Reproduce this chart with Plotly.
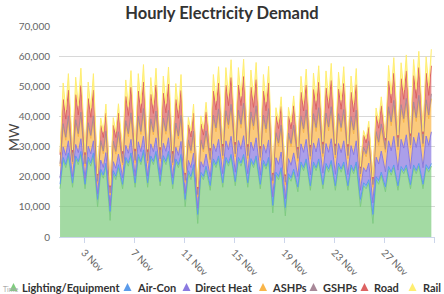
import pandas as pd
import plotly.graph_objects as go

# ---------------- data (MW), 4 readings per day: 02h, 08h, 13h, 18h ----------------
DAYS = list(range(30))
HOURS = [2, 8, 13, 18]

LIGHTING = [
    16000, 25500, 23000, 27000, 16500, 26000, 24000, 27500, 16000, 25500, 23500, 27000,
    10000, 21500, 19500, 23500, 5500, 21000, 19000, 23000, 16000, 25500, 23500, 27000,
    16500, 26500, 24000, 28000, 16500, 26000, 24000, 27500, 17000, 26000, 24000, 27500,
    16000, 25000, 23000, 26500, 10000, 21000, 19000, 23000, 4500, 20500, 19000, 22500,
    15500, 25000, 23000, 26000, 16500, 25500, 23500, 26500, 17000, 25500, 23500, 26500,
    16500, 25000, 23000, 26000, 16000, 24500, 22500, 25500, 8000, 20500, 19000, 22000,
    7000, 20000, 18500, 21500, 15000, 24000, 22000, 25000, 15500, 24000, 22000, 25000,
    16000, 23500, 21500, 24500, 15500, 23500, 21500, 24000, 15500, 23000, 21000, 24000,
    10000, 17000, 16000, 18000, 4500, 19000, 17500, 20500, 15000, 22500, 20500, 23000,
    15500, 22500, 21000, 23000, 16000, 23000, 21000, 23500, 16000, 23000, 21500, 23500]

AIRCON = [
    1500, 900, 1100, 900, 1400, 900, 1000, 900, 1500, 1000, 1100, 900,
    2500, 1000, 1100, 1000, 3000, 1000, 1200, 1000, 1500, 900, 1100, 900,
    1400, 900, 1000, 900, 1500, 900, 1100, 900, 1400, 1000, 1100, 900,
    1500, 900, 1000, 900, 2500, 1000, 1100, 1000, 3000, 1000, 1200, 1000,
    1600, 900, 1100, 900, 1500, 900, 1000, 900, 1400, 900, 1100, 900,
    1500, 1000, 1100, 900, 1500, 900, 1000, 900, 2500, 1000, 1100, 1000,
    2800, 1000, 1200, 1000, 1600, 900, 1100, 900, 1500, 900, 1000, 900,
    1400, 900, 1100, 900, 1500, 1000, 1100, 900, 1500, 900, 1000, 900,
    2500, 1000, 1100, 1000, 3000, 1000, 1200, 1000, 1600, 900, 1100, 900,
    1500, 900, 1000, 900, 1400, 900, 1100, 900, 1500, 1000, 1100, 900]

DIRECT_HEAT = [
    2000, 3500, 3000, 4000, 2100, 3800, 3000, 4200, 2000, 3600, 3000, 4000,
    1800, 3000, 2500, 3500, 1800, 3000, 2600, 3500, 2200, 4000, 3200, 4500,
    2300, 4200, 3300, 4600, 2200, 4000, 3200, 4500, 2300, 4100, 3300, 4500,
    2200, 3900, 3100, 4300, 2000, 3400, 2900, 3800, 2100, 3500, 3000, 4000,
    2800, 5000, 4200, 5500, 3000, 5500, 4500, 6000, 3100, 5600, 4500, 6200,
    3000, 5500, 4500, 6000, 3000, 5300, 4300, 5800, 2800, 4800, 4000, 5200,
    2900, 5000, 4100, 5400, 3500, 6000, 5000, 6500, 3600, 6300, 5200, 6800,
    3800, 6600, 5500, 7200, 3800, 6500, 5400, 7000, 3700, 6400, 5300, 7000,
    3000, 5000, 4500, 5500, 3800, 6500, 5500, 7000, 5000, 8500, 7000, 9500,
    5200, 9000, 7500, 10000, 5300, 9200, 7600, 10200, 5500, 9500, 7800, 10500]

ASHP = [
    4000, 6500, 5000, 7000, 4200, 7000, 5300, 7500, 4000, 6600, 5100, 7000,
    3500, 5500, 4500, 6000, 3600, 5800, 4700, 6300, 4200, 7000, 5500, 7500,
    4400, 7300, 5700, 7800, 4300, 7100, 5600, 7600, 4400, 7200, 5700, 7800,
    4200, 6800, 5400, 7300, 3600, 5800, 4800, 6200, 3800, 6200, 5000, 6600,
    4800, 8000, 6600, 8500, 5000, 8500, 7000, 9000, 5100, 8600, 7000, 9200,
    5000, 8500, 7000, 9000, 4900, 8200, 6800, 8800, 4500, 7000, 6000, 7500,
    4600, 7200, 6100, 7800, 5000, 7800, 6500, 8200, 5200, 8200, 6800, 8600,
    5500, 8600, 7100, 9000, 5400, 8400, 7000, 8800, 5300, 8200, 6900, 8600,
    4500, 5500, 5000, 6000, 5200, 7200, 6200, 7600, 6500, 9800, 8300, 10300,
    6700, 10000, 8500, 10500, 6800, 10200, 8600, 10800, 7000, 10500, 8800, 11000]

GSHP = [
    800, 1200, 1000, 1300, 800, 1200, 1000, 1300, 800, 1200, 1000, 1300,
    700, 1000, 900, 1100, 700, 1000, 900, 1100, 800, 1200, 1000, 1300,
    800, 1200, 1000, 1300, 800, 1200, 1000, 1300, 800, 1200, 1000, 1300,
    800, 1200, 1000, 1300, 700, 1000, 900, 1100, 700, 1000, 900, 1100,
    1000, 1500, 1300, 1600, 1000, 1500, 1300, 1600, 1000, 1500, 1300, 1600,
    1000, 1500, 1300, 1600, 1000, 1500, 1300, 1600, 900, 1300, 1100, 1400,
    900, 1300, 1100, 1400, 1000, 1500, 1300, 1600, 1000, 1500, 1300, 1600,
    1000, 1500, 1300, 1600, 1000, 1500, 1300, 1600, 1000, 1500, 1300, 1600,
    900, 1300, 1100, 1400, 900, 1300, 1100, 1400, 1000, 1500, 1300, 1600,
    1000, 1500, 1300, 1600, 1000, 1500, 1300, 1600, 1000, 1500, 1300, 1600]

ROAD = [
    3000, 8000, 6000, 8500, 3100, 8300, 6200, 8800, 3000, 8000, 6000, 8500,
    2000, 5000, 4500, 6000, 2000, 5200, 4600, 6200, 3000, 8000, 6000, 8500,
    3100, 8300, 6200, 8800, 3000, 8100, 6100, 8600, 3100, 8200, 6100, 8700,
    3000, 7800, 5900, 8300, 2000, 5000, 4500, 6000, 2000, 5300, 4700, 6300,
    3000, 8000, 6000, 8500, 3100, 8400, 6300, 8900, 3100, 8300, 6200, 8800,
    3000, 8200, 6100, 8700, 3000, 8000, 6000, 8500, 2100, 5500, 4800, 6200,
    2100, 5600, 4900, 6400, 3000, 7800, 5900, 8200, 3000, 8000, 6000, 8400,
    3100, 8300, 6200, 8700, 3000, 8200, 6100, 8600, 3000, 8000, 6000, 8400,
    2000, 4000, 3500, 4500, 2000, 5200, 4600, 6000, 3000, 8500, 6300, 9000,
    3100, 8600, 6400, 9100, 3100, 8700, 6400, 9200, 3200, 8800, 6500, 9300]

RAIL = [
    800, 5500, 3000, 5500, 800, 5800, 3100, 5800, 800, 5500, 3000, 5500,
    500, 2500, 2000, 3000, 500, 2600, 2000, 3100, 800, 5500, 3000, 5500,
    800, 5800, 3100, 5800, 800, 5600, 3000, 5600, 800, 5700, 3100, 5700,
    800, 5300, 2900, 5300, 500, 2500, 2000, 3000, 500, 2700, 2100, 3200,
    800, 5500, 3000, 5500, 800, 5900, 3200, 5900, 800, 5800, 3100, 5800,
    800, 5700, 3100, 5700, 800, 5500, 3000, 5500, 500, 2800, 2200, 3200,
    500, 2900, 2200, 3300, 800, 5300, 2900, 5300, 800, 5500, 3000, 5500,
    800, 5700, 3100, 5700, 800, 5600, 3000, 5600, 800, 5400, 3000, 5400,
    500, 1500, 1500, 2000, 500, 2600, 2000, 3000, 800, 5200, 3000, 5200,
    800, 5300, 3000, 5300, 800, 5400, 3000, 5400, 800, 5500, 3100, 5500]

SERIES = ["Lighting/Equipment", "Air-Con", "Direct Heat", "ASHPs", "GSHPs", "Road", "Rail"]
VALUES = [LIGHTING, AIRCON, DIRECT_HEAT, ASHP, GSHP, ROAD, RAIL]
COLORS = ["#7fcc7f", "#5b9bea", "#8a7ae0", "#f9b54a", "#a88898", "#dd6262", "#ffee70"]

TICK_DATES = ["2014-11-03", "2014-11-07", "2014-11-11", "2014-11-15",
              "2014-11-19", "2014-11-23", "2014-11-27", "2014-12-01"]
TICK_TEXT = ["3 Nov", "7 Nov", "11 Nov", "15 Nov", "19 Nov", "23 Nov", "27 Nov", "1 Dec"]
Y_TICKS = [0, 10000, 20000, 30000, 40000, 50000, 60000, 70000]

times = [pd.Timestamp("2014-11-01") + pd.Timedelta(days=d, hours=h) for d in DAYS for h in HOURS]

# ---------------- layout geometry ----------------
W, H = 444, 294
L, R, T, B = 59, 9, 26, 57
PW, PH = W - L - R, H - T - B


def px_x(px):
    return (px - L) / PW


def px_y(py):
    return (H - B - py) / PH


def rgba(hexc, a):
    h = hexc.lstrip("#")
    return "rgba(%d,%d,%d,%s)" % (int(h[0:2], 16), int(h[2:4], 16), int(h[4:6], 16), a)


fig = go.Figure()
for name, vals, col in zip(SERIES, VALUES, COLORS):
    fig.add_trace(go.Scatter(
        x=times, y=vals, name=name, mode="lines", stackgroup="one",
        line=dict(color=col, width=1), fillcolor=rgba(col, 0.72),
        showlegend=False, hoverinfo="skip"))

FONT = "Lato, 'Open Sans', sans-serif"

fig.update_layout(
    width=W, height=H, autosize=False,
    margin=dict(l=L, r=R, t=T, b=B, autoexpand=False),
    paper_bgcolor="white", plot_bgcolor="white",
    font=dict(family=FONT, color="#666666"),
    title=dict(text="<b>Hourly Electricity Demand</b>", x=0.5, xanchor="center",
               y=1 - 13 / H, yanchor="middle", font=dict(size=16.5, color="#333333", family=FONT)),
    showlegend=False,
)
fig.update_xaxes(
    type="date", range=["2014-11-01 00:00", "2014-12-01 01:00"],
    tickvals=TICK_DATES, ticktext=TICK_TEXT, tickangle=45,
    tickfont=dict(size=10, color="#666666"),
    ticks="outside", ticklen=5, tickcolor="#ccd6eb",
    showgrid=False, showline=True, linecolor="#ccd6eb", linewidth=1,
    zeroline=False,
)
fig.update_yaxes(
    range=[0, 70000], tickvals=Y_TICKS, tickformat=",",
    tickfont=dict(size=10, color="#666666"),
    ticks="outside", ticklen=6, tickcolor="rgba(0,0,0,0)",
    showgrid=True, gridcolor="#d8d8d8", gridwidth=1,
    zeroline=False, showline=False,
)

ann = [
    dict(text="MW", x=px_x(13), y=px_y(137), xref="paper", yref="paper",
         xanchor="center", yanchor="middle",
         textangle=-90, showarrow=False, font=dict(size=14, color="#444444", family=FONT)),
    dict(text="Time", x=px_x(1), y=px_y(289), xref="paper", yref="paper", xanchor="left",
         yanchor="middle", showarrow=False, font=dict(size=7, color="#aaaaaa", family=FONT)),
]
shapes = []
LEG_TEXT_X = [20, 135, 193, 270, 321, 372, 421]
LEG_TRI_X = [13.5, 127.5, 186.5, 263, 313.5, 364.5, 412.5]
LEG_Y = 287
for name, col, tx, cx in zip(SERIES, COLORS, LEG_TEXT_X, LEG_TRI_X):
    ann.append(dict(text="<b>%s</b>" % name, x=px_x(tx), y=px_y(LEG_Y), xref="paper", yref="paper",
                    xanchor="left", yanchor="middle", showarrow=False,
                    font=dict(size=11, color="#333333", family=FONT)))
    p = "M %f,%f L %f,%f L %f,%f Z" % (px_x(cx - 4), px_y(LEG_Y + 4), px_x(cx + 4), px_y(LEG_Y + 4),
                                       px_x(cx), px_y(LEG_Y - 4))
    shapes.append(dict(type="path", path=p, xref="paper", yref="paper",
                       fillcolor=col, line=dict(width=0)))
fig.update_layout(annotations=ann, shapes=shapes)

fig.write_html("out.html")
